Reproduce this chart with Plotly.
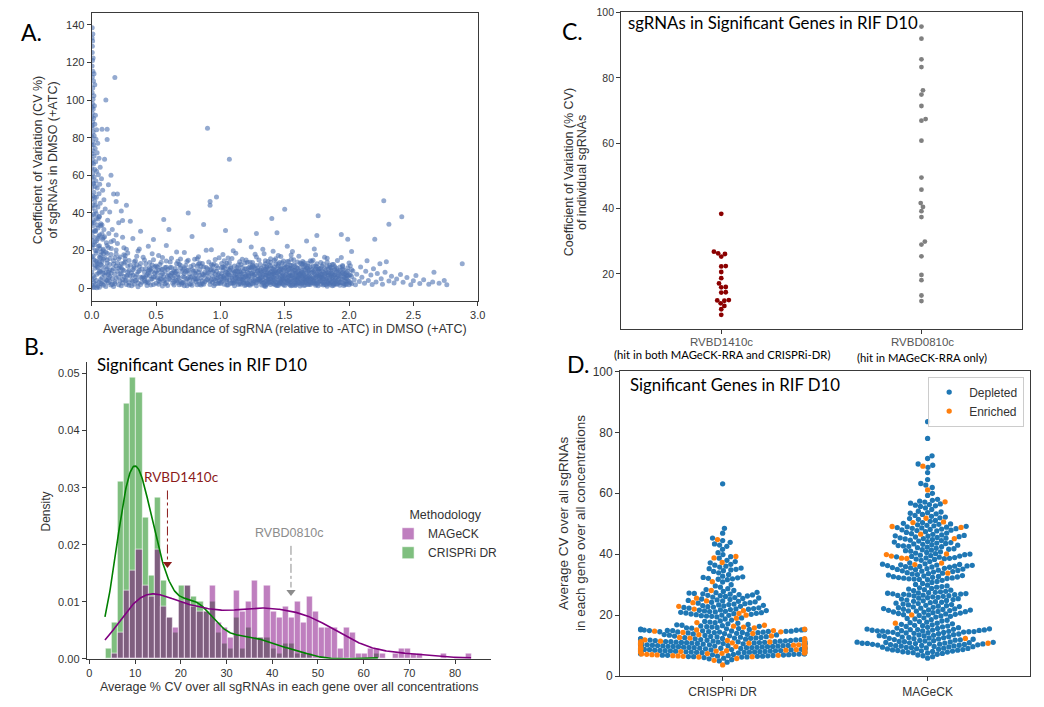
import numpy as np
import plotly.graph_objects as go

W, H = 1044, 707
AX_FONT = "Liberation Sans, Arial, Helvetica, sans-serif"
CAL_FONT = "Lato, Carlito, Calibri, sans-serif"
TXT = "#333333"


def fx(p):
    return p / W


def fy(p):
    return 1 - p / H


# ---------------- Panel A data (abundance vs CV of each sgRNA) ----------------
a_spike = [
    (0.004, 138.5), (0.009, 135.2), (0.003, 133.0), (0.007, 131.4), (0.005, 128.6), (0.004, 125.3), (0.011, 122.4),
    (0.006, 121.1), (0.003, 118.2), (0.009, 115.4), (0.018, 114.0), (0.005, 112.3), (0.014, 110.1), (0.024, 108.2),
    (0.008, 106.5), (0.003, 104.1), (0.017, 102.3), (0.010, 100.4), (0.005, 98.2), (0.021, 97.0), (0.012, 95.3),
    (0.004, 93.1), (0.029, 92.0), (0.015, 90.2), (0.007, 88.4), (0.024, 87.1), (0.004, 85.3), (0.038, 84.2),
    (0.011, 83.0), (0.019, 81.1), (0.033, 79.2), (0.006, 78.0), (0.047, 77.1), (0.014, 76.2), (0.027, 74.3),
    (0.009, 73.1), (0.042, 72.0), (0.019, 70.2), (0.057, 69.1), (0.005, 68.3), (0.031, 67.2), (0.014, 66.0),
    (0.066, 64.3), (0.024, 63.1), (0.038, 62.2), (0.009, 61.0), (0.052, 60.3), (0.019, 59.1), (0.076, 58.2),
    (0.033, 57.0), (0.011, 56.1), (0.062, 55.3), (0.027, 54.0), (0.043, 53.2), (0.085, 52.1), (0.017, 51.0),
    (0.057, 50.2), (0.007, 49.1), (0.036, 48.3), (0.095, 47.0), (0.024, 46.2), (0.066, 45.1), (0.011, 44.0),
    (0.048, 43.2), (0.105, 42.1), (0.029, 41.0), (0.081, 40.2), (0.014, 39.1), (0.057, 38.0), (0.038, 37.2),
    (0.124, 36.1), (0.019, 35.0), (0.071, 34.2), (0.009, 33.1), (0.048, 32.0), (0.095, 31.2), (0.029, 30.1),
    (0.133, 29.0), (0.062, 28.2), (0.017, 27.1), (0.085, 26.0), (0.038, 25.2), (0.114, 24.1), (0.007, 23.0),
    (0.052, 22.2), (0.152, 21.1), (0.029, 20.0), (0.076, 19.2), (0.190, 18.1), (0.011, 17.0),
    (0.002, 96.0), (0.001, 91.0), (0.003, 86.5), (0.002, 80.5), (0.001, 76.0), (0.004, 71.5), (0.002, 66.5),
    (0.001, 63.5), (0.003, 58.5), (0.002, 53.5), (0.001, 47.5), (0.003, 42.5), (0.002, 38.5), (0.001, 34.5),
    (0.004, 29.5), (0.002, 25.5), (0.003, 21.5), (0.001, 16.5), (0.002, 12.5), (0.001, 8.5), (0.003, 4.5),
    (0.002, 1.5), (0.008, 0.5), (0.020, 0.3), (0.040, 0.2), (0.060, 0.4),
    (0.016, 55.5), (0.022, 48.5), (0.028, 44.0), (0.035, 39.5), (0.012, 36.0), (0.044, 33.5), (0.020, 30.5),
    (0.053, 27.5), (0.026, 24.5), (0.064, 21.0), (0.034, 18.5), (0.016, 15.0), (0.045, 13.0), (0.025, 10.5),
    (0.055, 8.0), (0.012, 6.5), (0.035, 4.0), (0.070, 2.5), (0.048, 1.0), (0.030, 14.5), (0.068, 16.0),
    (0.042, 11.5), (0.086, 9.5), (0.018, 3.0),
]

a_band = [
    (0.06, 3.2), (0.07, 8.5), (0.08, 14.1), (0.09, 1.5), (0.10, 6.8), (0.11, 11.2), (0.12, 18.4), (0.13, 2.9),
    (0.14, 9.7), (0.06, 22.5), (0.08, 5.6), (0.10, 27.3), (0.12, 4.1), (0.14, 15.8), (0.07, 12.6), (0.09, 19.9),
    (0.11, 0.8), (0.13, 7.4), (0.15, 24.6), (0.08, 33.5), (0.10, 16.2), (0.12, 10.3), (0.06, 38.1), (0.09, 26.8),
    (0.14, 3.7),
    (0.16, 5.1), (0.17, 12.8), (0.18, 2.4), (0.19, 20.3), (0.20, 8.9), (0.21, 15.6), (0.22, 3.8), (0.23, 10.7),
    (0.24, 27.1), (0.25, 6.2), (0.26, 13.9), (0.27, 1.9), (0.28, 18.6), (0.29, 9.4), (0.16, 31.2), (0.18, 7.3),
    (0.20, 23.7), (0.22, 11.5), (0.24, 4.6), (0.26, 17.2), (0.28, 6.9), (0.30, 12.1), (0.17, 0.9), (0.21, 34.8),
    (0.25, 21.4),
    (0.31, 4.3), (0.32, 9.8), (0.33, 2.1), (0.34, 14.5), (0.35, 7.2), (0.36, 19.7), (0.37, 11.3), (0.38, 5.8),
    (0.39, 3.1), (0.40, 16.4), (0.41, 8.6), (0.42, 12.9), (0.43, 1.4), (0.44, 22.3), (0.45, 6.7), (0.46, 10.2),
    (0.47, 4.9), (0.48, 15.1), (0.49, 7.9), (0.50, 2.6), (0.32, 26.4), (0.35, 12.4), (0.38, 30.2), (0.41, 3.9),
    (0.44, 9.1), (0.47, 18.3), (0.50, 11.8), (0.36, 0.7), (0.42, 6.1), (0.48, 25.8),
    (0.51, 5.4), (0.52, 9.6), (0.53, 3.2), (0.54, 13.8), (0.55, 7.7), (0.56, 36.5), (0.57, 2.3), (0.58, 11.1),
    (0.59, 6.3), (0.60, 31.1), (0.61, 4.4), (0.62, 15.9), (0.63, 8.2), (0.64, 1.6), (0.65, 10.4), (0.66, 19.2),
    (0.67, 5.9), (0.68, 12.7), (0.69, 3.5), (0.70, 8.8), (0.52, 17.4), (0.55, 1.1), (0.58, 22.6), (0.61, 10.9),
    (0.64, 6.6), (0.67, 14.3), (0.70, 2.8), (0.54, 4.8), (0.60, 7.1), (0.66, 3.9),
    (0.71, 6.2), (0.72, 10.8), (0.73, 3.4), (0.74, 14.1), (0.75, 40.0), (0.76, 7.6), (0.77, 2.2), (0.78, 27.4),
    (0.79, 12.3), (0.80, 5.1), (0.81, 9.2), (0.82, 1.8), (0.83, 16.7), (0.84, 6.8), (0.85, 11.6), (0.86, 3.9),
    (0.87, 33.8), (0.88, 8.4), (0.89, 20.1), (0.90, 4.6), (0.72, 18.9), (0.75, 5.5), (0.78, 9.9), (0.81, 3.2),
    (0.84, 13.4), (0.87, 7.1), (0.90, 10.3), (0.74, 1.2), (0.80, 15.3), (0.86, 2.5),
    (0.91, 5.8), (0.92, 46.0), (0.92, 44.0), (0.93, 9.7), (0.94, 3.1), (0.95, 12.8), (0.96, 7.3), (0.97, 48.5),
    (0.98, 2.4), (0.99, 16.2), (1.00, 6.1), (1.01, 10.9), (1.02, 4.2), (1.03, 14.6), (1.04, 30.6), (1.05, 8.3),
    (1.06, 1.7), (1.07, 68.5), (1.08, 11.4), (1.09, 5.2), (1.10, 19.8), (0.93, 20.4), (0.95, 4.9), (0.97, 8.9),
    (0.99, 2.9), (1.01, 13.1), (1.03, 6.6), (1.05, 3.7), (1.07, 9.5), (1.09, 15.7), (0.94, 11.9), (0.98, 5.5),
    (1.02, 17.9), (1.06, 7.8), (1.10, 4.1), (0.90, 85.0),
    (1.11, 6.4), (1.12, 9.1), (1.13, 3.3), (1.14, 12.4), (1.15, 7.2), (1.16, 2.1), (1.17, 15.3), (1.18, 5.6),
    (1.19, 10.2), (1.20, 4.0), (1.21, 13.7), (1.22, 8.0), (1.23, 1.5), (1.24, 21.8), (1.25, 6.8), (1.26, 11.3),
    (1.27, 3.6), (1.28, 29.0), (1.29, 9.3), (1.30, 5.0), (1.12, 18.5), (1.14, 4.7), (1.16, 8.6), (1.18, 2.7),
    (1.20, 14.9), (1.22, 6.0), (1.24, 10.8), (1.26, 3.0), (1.28, 16.6), (1.30, 7.9), (1.13, 11.0), (1.17, 6.2),
    (1.21, 2.4), (1.25, 12.1), (1.29, 4.4), (1.15, 25.2), (1.19, 7.5), (1.23, 9.8), (1.27, 18.0), (1.11, 1.2),
    (1.31, 5.3), (1.32, 8.4), (1.33, 2.6), (1.34, 11.7), (1.35, 6.9), (1.36, 3.8), (1.37, 14.2), (1.38, 7.7),
    (1.39, 1.9), (1.40, 37.0), (1.41, 10.1), (1.42, 4.5), (1.43, 12.9), (1.44, 29.5), (1.45, 8.8), (1.46, 2.2),
    (1.47, 16.8), (1.48, 6.3), (1.49, 9.6), (1.50, 42.0), (1.31, 12.6), (1.33, 6.1), (1.35, 9.9), (1.37, 3.2),
    (1.39, 15.6), (1.41, 5.7), (1.43, 8.1), (1.45, 1.4), (1.47, 11.2), (1.49, 4.2), (1.32, 3.5), (1.34, 18.3),
    (1.36, 10.5), (1.38, 4.9), (1.40, 7.4), (1.42, 14.8), (1.44, 3.0), (1.46, 9.3), (1.48, 13.5), (1.50, 6.6),
    (1.33, 20.7), (1.36, 7.0), (1.39, 11.9), (1.42, 2.0), (1.45, 17.4), (1.48, 5.1), (1.50, 10.7), (1.35, 0.9),
    (1.41, 19.6), (1.47, 3.7),
    (1.51, 4.8), (1.52, 9.0), (1.53, 2.3), (1.54, 12.2), (1.55, 6.5), (1.56, 3.6), (1.57, 15.1), (1.58, 7.8),
    (1.59, 1.7), (1.60, 10.6), (1.61, 5.2), (1.62, 13.3), (1.63, 8.3), (1.64, 2.9), (1.65, 11.4), (1.66, 6.0),
    (1.67, 25.0), (1.68, 4.3), (1.69, 9.5), (1.70, 14.6), (1.51, 11.3), (1.53, 6.8), (1.55, 1.3), (1.57, 9.4),
    (1.59, 4.6), (1.61, 16.9), (1.63, 3.4), (1.65, 7.3), (1.67, 10.8), (1.69, 2.1), (1.52, 4.1), (1.54, 8.0),
    (1.56, 19.4), (1.58, 5.5), (1.60, 2.6), (1.62, 7.6), (1.64, 12.7), (1.66, 3.1), (1.68, 8.9), (1.70, 5.8),
    (1.53, 14.0), (1.56, 10.0), (1.59, 8.1), (1.62, 1.1), (1.65, 4.7), (1.68, 13.2), (1.52, 22.3), (1.58, 3.0),
    (1.64, 6.4), (1.70, 1.9), (1.55, 17.6), (1.61, 7.0), (1.67, 5.3), (1.60, 13.9), (1.66, 9.7),
    (1.71, 5.0), (1.72, 8.7), (1.73, 2.5), (1.74, 11.8), (1.75, 6.2), (1.76, 38.5), (1.77, 3.5), (1.78, 13.6),
    (1.79, 7.4), (1.80, 1.6), (1.81, 10.4), (1.82, 4.4), (1.83, 15.9), (1.84, 6.9), (1.85, 2.7), (1.86, 9.8),
    (1.87, 4.9), (1.88, 12.5), (1.89, 7.1), (1.90, 3.3), (1.71, 14.2), (1.73, 7.9), (1.75, 3.9), (1.77, 10.1),
    (1.79, 5.4), (1.81, 2.1), (1.83, 8.3), (1.85, 11.1), (1.87, 1.3), (1.89, 9.9), (1.72, 4.0), (1.74, 17.7),
    (1.76, 9.2), (1.78, 5.9), (1.80, 12.8), (1.82, 7.7), (1.84, 3.2), (1.86, 6.5), (1.88, 2.2), (1.90, 10.6),
    (1.73, 20.8), (1.77, 6.7), (1.81, 16.4), (1.85, 5.6), (1.89, 4.3), (1.75, 28.0), (1.79, 11.6), (1.83, 1.0),
    (1.87, 7.5), (1.74, 2.9),
    (1.91, 6.1), (1.92, 3.0), (1.93, 9.4), (1.94, 4.8), (1.95, 12.0), (1.96, 2.4), (1.97, 7.6), (1.98, 5.2),
    (1.99, 10.8), (2.00, 3.7), (2.01, 7.0), (2.02, 2.3), (2.03, 9.1), (2.04, 4.5), (2.05, 1.8), (1.91, 14.7),
    (1.93, 1.5), (1.95, 8.2), (1.97, 3.6), (1.99, 6.4), (2.01, 11.9), (1.92, 8.6), (1.94, 16.3), (1.96, 5.7),
    (1.98, 2.0), (2.00, 13.4), (2.02, 6.2), (1.94, 28.5), (1.99, 26.0), (2.02, 19.5),
]

a_core = [
    (0.02, 5.5), (0.03, 12.2), (0.04, 19.8), (0.05, 26.4), (0.06, 9.1), (0.07, 33.2), (0.08, 2.2), (0.09, 15.3),
    (0.03, 30.6), (0.05, 36.8), (0.07, 17.6), (0.09, 7.9), (0.02, 23.1), (0.06, 13.7), (0.08, 28.9),
    (0.11, 4.5), (0.12, 13.4), (0.13, 21.6), (0.14, 6.2), (0.15, 17.9), (0.16, 9.3), (0.17, 25.3), (0.18, 3.4),
    (0.19, 11.8), (0.11, 19.1), (0.13, 8.4), (0.15, 1.7), (0.17, 14.6), (0.19, 28.2), (0.12, 22.7),
    (0.21, 5.9), (0.22, 16.5), (0.23, 1.3), (0.24, 9.8), (0.25, 13.2), (0.26, 4.1), (0.27, 20.6), (0.28, 11.7),
    (0.29, 2.9), (0.21, 10.6), (0.23, 7.5), (0.25, 17.8), (0.27, 6.4), (0.29, 14.7),
    (0.31, 8.1), (0.32, 3.6), (0.33, 11.6), (0.34, 6.0), (0.35, 16.9), (0.36, 2.7), (0.37, 9.2), (0.38, 13.1),
    (0.39, 5.3), (0.31, 1.2), (0.33, 14.0), (0.35, 4.4), (0.37, 20.8), (0.39, 10.1),
    (0.41, 5.2), (0.42, 10.4), (0.43, 7.1), (0.44, 2.8), (0.45, 13.6), (0.46, 4.7), (0.47, 8.8), (0.48, 1.9),
    (0.49, 11.4), (0.41, 14.9), (0.43, 3.5), (0.45, 9.6), (0.47, 12.3), (0.49, 6.0),
    (0.51, 7.9), (0.52, 2.1), (0.53, 12.5), (0.54, 6.9), (0.55, 10.0), (0.56, 3.8), (0.57, 8.5), (0.58, 14.4),
    (0.59, 1.4), (0.51, 11.2), (0.53, 5.0), (0.55, 16.3), (0.57, 4.6), (0.59, 9.9),
    (0.61, 6.7), (0.62, 11.0), (0.63, 2.6), (0.64, 9.0), (0.65, 4.2), (0.66, 13.0), (0.67, 7.3), (0.68, 1.8),
    (0.69, 10.7), (0.61, 13.9), (0.63, 5.6), (0.65, 8.1), (0.67, 3.0), (0.69, 15.5),
    (0.71, 3.0), (0.72, 7.8), (0.73, 12.0), (0.74, 5.0), (0.75, 9.5), (0.76, 2.0), (0.77, 11.5), (0.78, 6.1),
    (0.79, 4.0), (0.71, 10.0), (0.73, 8.6), (0.75, 14.8), (0.77, 5.7), (0.79, 8.9), (0.72, 1.3),
    (0.81, 7.0), (0.82, 11.8), (0.83, 3.8), (0.84, 9.8), (0.85, 5.3), (0.86, 13.1), (0.87, 2.0), (0.88, 6.4),
    (0.89, 10.9), (0.81, 4.8), (0.83, 8.4), (0.85, 1.6), (0.87, 11.2), (0.89, 4.2), (0.82, 15.6),
    (0.91, 8.0), (0.92, 3.6), (0.93, 12.4), (0.94, 6.3), (0.95, 9.3), (0.96, 2.2), (0.97, 5.1), (0.98, 10.7),
    (0.99, 7.7), (0.91, 13.9), (0.93, 4.5), (0.95, 1.3), (0.97, 11.9), (0.99, 3.9), (0.92, 9.9), (0.96, 15.2),
    (1.01, 3.3), (1.02, 9.5), (1.03, 5.4), (1.04, 12.0), (1.05, 1.6), (1.06, 7.0), (1.07, 4.1), (1.08, 10.6),
    (1.09, 8.1), (1.10, 2.6), (1.01, 7.6), (1.03, 11.0), (1.05, 5.8), (1.07, 13.6), (1.09, 2.9), (1.02, 6.2),
    (1.06, 16.0),
    (1.11, 8.6), (1.12, 3.9), (1.13, 6.8), (1.14, 10.2), (1.15, 2.5), (1.16, 12.6), (1.17, 4.5), (1.18, 9.0),
    (1.19, 1.4), (1.20, 6.4), (1.11, 11.7), (1.13, 5.6), (1.15, 8.8), (1.17, 3.1), (1.19, 13.4), (1.12, 7.3),
    (1.16, 5.0), (1.20, 10.3),
    (1.21, 5.6), (1.22, 10.8), (1.23, 3.9), (1.24, 7.6), (1.25, 2.2), (1.26, 9.0), (1.27, 5.1), (1.28, 12.0),
    (1.29, 6.5), (1.30, 3.5), (1.21, 8.4), (1.22, 1.8), (1.23, 13.8), (1.24, 4.7), (1.26, 6.8), (1.27, 10.3),
    (1.28, 2.8), (1.29, 8.9), (1.25, 11.4), (1.30, 15.0),
    (1.31, 7.3), (1.32, 1.6), (1.32, 10.6), (1.33, 4.4), (1.34, 8.8), (1.34, 3.0), (1.35, 5.6), (1.35, 12.9),
    (1.36, 2.1), (1.36, 8.0), (1.37, 6.2), (1.37, 10.0), (1.38, 2.9), (1.38, 12.1), (1.39, 5.0), (1.39, 8.4),
    (1.40, 3.4), (1.40, 10.4), (1.31, 3.9), (1.33, 9.5), (1.35, 1.5), (1.37, 4.6), (1.39, 13.8), (1.40, 6.8),
    (1.41, 2.4), (1.41, 7.8), (1.42, 5.2), (1.42, 11.2), (1.43, 3.3), (1.43, 9.2), (1.44, 6.4), (1.44, 1.4),
    (1.45, 4.0), (1.45, 11.8), (1.46, 6.9), (1.46, 13.6), (1.47, 2.8), (1.47, 8.4), (1.48, 4.6), (1.48, 10.3),
    (1.49, 1.8), (1.49, 7.0), (1.50, 3.6), (1.50, 12.4), (1.42, 8.6), (1.44, 10.7), (1.46, 4.8), (1.48, 2.5),
    (1.49, 14.4), (1.43, 15.6),
    (1.51, 2.9), (1.51, 7.4), (1.52, 5.4), (1.52, 11.5), (1.53, 4.0), (1.53, 9.7), (1.54, 1.7), (1.54, 6.5),
    (1.55, 3.3), (1.55, 10.6), (1.56, 5.8), (1.56, 8.1), (1.57, 2.2), (1.57, 12.6), (1.58, 4.4), (1.58, 9.6),
    (1.59, 6.9), (1.59, 2.6), (1.60, 4.9), (1.60, 8.6), (1.52, 14.1), (1.54, 3.5), (1.56, 1.5), (1.58, 11.8),
    (1.60, 6.2), (1.55, 15.4),
    (1.61, 3.0), (1.61, 9.1), (1.62, 4.9), (1.62, 10.9), (1.63, 2.0), (1.63, 6.6), (1.64, 8.3), (1.64, 4.0),
    (1.65, 1.4), (1.65, 9.8), (1.66, 5.0), (1.66, 12.1), (1.67, 2.9), (1.67, 7.8), (1.68, 6.0), (1.68, 10.4),
    (1.69, 3.6), (1.69, 8.0), (1.70, 4.6), (1.70, 11.3), (1.62, 7.1), (1.64, 14.2), (1.66, 3.6), (1.68, 1.9),
    (1.63, 12.9), (1.69, 5.3),
    (1.71, 2.7), (1.71, 8.2), (1.72, 6.0), (1.72, 11.6), (1.73, 3.8), (1.73, 9.4), (1.74, 1.5), (1.74, 5.3),
    (1.75, 7.6), (1.75, 12.9), (1.76, 3.0), (1.76, 6.8), (1.77, 4.8), (1.77, 8.8), (1.78, 2.0), (1.78, 10.7),
    (1.79, 6.0), (1.79, 3.6), (1.80, 8.4), (1.80, 5.0), (1.72, 14.8), (1.74, 10.3), (1.76, 1.3), (1.78, 7.2),
    (1.81, 6.3), (1.81, 3.3), (1.82, 9.6), (1.82, 1.8), (1.83, 5.1), (1.83, 11.8), (1.84, 8.0), (1.84, 2.5),
    (1.85, 4.4), (1.85, 7.2), (1.86, 3.0), (1.86, 10.8), (1.87, 5.8), (1.87, 9.0), (1.88, 4.0), (1.88, 1.5),
    (1.89, 7.0), (1.89, 11.3), (1.90, 5.4), (1.90, 2.1), (1.83, 13.9), (1.87, 12.6),
    (1.91, 4.2), (1.91, 9.2), (1.92, 6.6), (1.93, 2.8), (1.93, 11.2), (1.94, 7.5), (1.95, 4.7), (1.96, 9.6),
    (1.96, 1.4), (1.97, 5.6), (1.98, 8.3), (1.98, 3.2), (1.99, 4.1), (2.00, 6.9), (2.01, 2.9), (2.02, 9.8),
]

a_core2 = [
    (0.03, 2.1), (0.04, 7.3), (0.05, 10.8), (0.06, 16.4), (0.07, 4.6), (0.08, 11.9), (0.09, 20.6), (0.10, 3.2),
    (0.11, 8.1), (0.12, 14.9), (0.13, 5.4), (0.14, 12.5), (0.15, 7.9), (0.16, 2.0), (0.17, 10.4), (0.18, 16.1),
    (0.19, 5.2), (0.20, 13.4), (0.21, 1.8), (0.22, 7.8), (0.23, 12.9), (0.24, 2.7), (0.25, 9.4), (0.26, 15.5),
    (0.27, 4.3), (0.28, 8.6), (0.29, 1.5), (0.30, 6.6), (0.04, 14.2), (0.09, 18.2),
    (0.32, 6.8), (0.34, 3.9), (0.36, 8.7), (0.38, 1.9), (0.40, 6.0), (0.42, 3.1), (0.44, 8.0), (0.46, 1.6),
    (0.48, 5.9), (0.50, 8.9), (0.52, 4.0), (0.54, 9.9), (0.56, 6.0), (0.58, 2.8), (0.60, 5.0), (0.62, 8.0),
    (0.64, 3.5), (0.66, 9.0), (0.68, 5.4), (0.70, 2.1), (0.72, 5.6), (0.74, 9.3), (0.76, 4.5), (0.78, 1.5),
    (0.80, 7.9), (0.82, 5.0), (0.84, 2.0), (0.86, 7.5), (0.88, 3.4), (0.90, 8.1), (0.92, 1.9), (0.94, 8.6),
    (0.96, 4.0), (0.98, 7.0), (1.00, 2.5), (0.33, 10.5), (0.45, 11.0), (0.57, 10.9), (0.69, 12.2), (0.83, 12.8),
    (1.01, 5.0), (1.02, 11.2), (1.03, 2.0), (1.04, 8.6), (1.05, 4.5), (1.06, 10.0), (1.07, 6.8), (1.08, 2.4),
    (1.09, 5.9), (1.10, 9.4), (1.11, 3.3), (1.12, 5.5), (1.13, 9.0), (1.14, 1.9), (1.15, 4.9), (1.16, 7.6),
    (1.17, 10.9), (1.18, 3.9), (1.19, 6.2), (1.20, 1.8), (1.21, 3.0), (1.22, 6.6), (1.23, 11.2), (1.24, 2.5),
    (1.25, 8.0), (1.26, 4.2), (1.27, 7.3), (1.28, 1.3), (1.29, 10.7), (1.30, 4.7), (1.31, 9.8), (1.32, 5.8),
    (1.33, 7.2), (1.34, 1.2), (1.35, 3.6), (1.36, 11.4), (1.37, 8.2), (1.38, 5.7), (1.39, 3.3), (1.40, 9.0),
    (1.41, 4.4), (1.42, 6.9), (1.43, 1.7), (1.44, 8.3), (1.45, 5.9), (1.46, 2.9), (1.47, 10.1), (1.48, 7.8),
    (1.49, 5.3), (1.50, 1.4), (1.51, 8.9), (1.52, 3.0), (1.53, 6.0), (1.54, 10.4), (1.55, 4.6), (1.56, 7.0),
    (1.57, 5.3), (1.58, 1.4), (1.59, 11.0), (1.60, 3.8), (1.61, 6.0), (1.62, 2.6), (1.63, 9.2), (1.64, 5.3),
    (1.65, 7.1), (1.66, 1.6), (1.67, 4.2), (1.68, 11.6), (1.69, 6.6), (1.70, 3.0), (1.71, 9.9), (1.72, 3.1),
    (1.73, 5.4), (1.74, 7.0), (1.75, 2.0), (1.76, 10.2), (1.77, 5.9), (1.78, 3.9), (1.79, 8.9), (1.80, 2.9),
    (1.81, 7.5), (1.82, 5.3), (1.83, 3.7), (1.84, 10.0), (1.85, 1.9), (1.86, 8.0), (1.87, 3.5), (1.88, 6.5),
    (1.89, 2.5), (1.90, 8.6), (1.91, 2.2), (1.92, 5.0), (1.93, 7.0), (1.94, 3.0), (1.95, 10.0), (1.96, 7.3),
    (1.97, 1.9), (1.98, 6.7), (1.99, 9.0), (2.00, 1.8),
    (1.45, 13.0), (1.55, 12.0), (1.65, 13.5), (1.75, 11.4), (1.85, 12.2), (1.35, 14.5), (1.25, 13.6),
    (1.15, 14.0), (1.05, 13.2), (1.95, 11.5),
]

a_tail = [
    (2.06, 7.4), (2.08, 3.5), (2.09, 11.2), (2.10, 5.8), (2.12, 2.6), (2.13, 8.9), (2.14, 14.6), (2.15, 4.1),
    (2.17, 6.9), (2.18, 1.9), (2.19, 10.3), (2.20, 26.0), (2.21, 3.3), (2.22, 7.7), (2.24, 12.9), (2.25, 5.0),
    (2.26, 2.1), (2.27, 46.5), (2.28, 8.4), (2.29, 14.0), (2.31, 34.0), (2.31, 3.8), (2.33, 6.3), (2.35, 2.7),
    (2.37, 4.9), (2.40, 7.2), (2.41, 38.0), (2.42, 3.1), (2.45, 5.6), (2.48, 1.8), (2.50, 3.9), (2.52, 6.7),
    (2.55, 2.5), (2.58, 4.4), (2.62, 2.0), (2.65, 3.2), (2.66, 8.4), (2.70, 2.6), (2.74, 4.0), (2.76, 1.8),
    (2.88, 13.0),
]

a_outliers = [
    (0.18, 112.0), (0.11, 100.0), (0.08, 84.5), (0.12, 84.5), (0.12, 79.0), (0.10, 68.5), (0.15, 60.0),
    (0.13, 55.0), (0.20, 50.0), (0.17, 50.0), (0.27, 44.0), (0.23, 41.0), (0.19, 46.0), (0.24, 36.0),
    (0.30, 35.5), (0.14, 40.5),
]

# ---------------- Panels B & D data: average %CV of each significant gene ----------------
crispr_depleted_cv = [
    4.6, 5.0, 5.4, 5.7, 5.9, 6.1,
    6.28, 6.33, 6.39, 6.44, 6.5, 6.56, 6.61, 6.67, 6.72, 6.78, 6.84, 6.9, 6.95, 7.01, 7.07, 7.12, 7.18, 7.24,
    7.3, 7.36, 7.43, 7.5,
    7.6, 7.64, 7.68, 7.72, 7.75, 7.79, 7.83, 7.87, 7.9, 7.94, 7.98, 8.02, 8.05, 8.09, 8.13, 8.17, 8.2, 8.24,
    8.28, 8.32, 8.35, 8.39, 8.43, 8.47, 8.5, 8.54, 8.58, 8.62, 8.65, 8.69, 8.73, 8.77, 8.8, 8.84, 8.88,
    8.93, 8.96, 8.99, 9.02, 9.05, 9.08, 9.11, 9.14, 9.17, 9.2, 9.23, 9.26, 9.29, 9.32, 9.35, 9.38, 9.41, 9.44,
    9.47, 9.5, 9.53, 9.56, 9.59, 9.62, 9.65, 9.68, 9.71, 9.74, 9.77, 9.8, 9.83, 9.86, 9.89, 9.92, 9.95, 9.98,
    10.01, 10.04, 10.07, 10.1, 10.14, 10.19,
    10.27, 10.3, 10.33, 10.36, 10.39, 10.42, 10.45, 10.48, 10.51, 10.54, 10.57, 10.6, 10.63, 10.66, 10.69,
    10.72, 10.75, 10.78, 10.81, 10.84, 10.87, 10.9, 10.93, 10.96, 10.99, 11.02, 11.05, 11.08, 11.11, 11.14,
    11.17, 11.2, 11.23, 11.26, 11.29, 11.32, 11.35, 11.38, 11.42, 11.47, 11.53,
    11.6, 11.66, 11.72, 11.78, 11.84, 11.9, 11.96, 12.02, 12.08, 12.14, 12.2, 12.26, 12.32, 12.38, 12.44,
    12.5, 12.56, 12.62, 12.7, 12.78, 12.86,
    12.95, 13.05, 13.15, 13.25, 13.35, 13.45, 13.55, 13.65, 13.75, 13.85, 13.95, 14.05, 14.18,
    14.27, 14.32, 14.37, 14.42, 14.47, 14.52, 14.57, 14.62, 14.67, 14.72, 14.77, 14.82, 14.87, 14.92, 14.97,
    15.02, 15.07, 15.12, 15.17, 15.22, 15.27, 15.32, 15.38, 15.45, 15.53,
    15.62, 15.74, 15.86, 15.98, 16.1, 16.22, 16.34, 16.46, 16.58, 16.7, 16.84,
    16.98, 17.17, 17.36, 17.55, 17.74, 17.93, 18.14,
    18.4, 18.75, 19.1, 19.45,
    19.62, 19.73, 19.84, 19.95, 20.06, 20.17, 20.28, 20.39, 20.5, 20.61, 20.72, 20.84,
    20.96, 21.07, 21.18, 21.29, 21.4, 21.51, 21.62, 21.73, 21.84, 21.95, 22.06, 22.18,
    22.3, 22.42, 22.54, 22.66, 22.78, 22.9, 23.02, 23.14, 23.26, 23.38, 23.5,
    23.65, 23.8, 23.95, 24.1, 24.25, 24.4, 24.55, 24.7, 24.85,
    25.0, 25.16, 25.32, 25.48, 25.64, 25.8, 25.96, 26.14,
    26.3, 26.42, 26.54, 26.66, 26.78, 26.9, 27.02, 27.14, 27.26, 27.38, 27.5,
    27.8, 28.1, 28.4, 28.7, 29.2, 29.6, 30.0, 30.9,
    31.65, 31.8, 31.95, 32.1, 32.25, 32.4, 32.6, 32.8, 33.3, 33.9,
    34.35, 34.6, 34.85, 35.05, 35.25, 35.45, 35.8, 36.1, 36.4, 36.7, 37.2, 37.6, 38.0, 38.7, 39.2,
    39.9, 40.5, 41.6, 42.6, 43.0, 43.4, 43.9, 44.5, 45.3, 46.9, 48.5, 63.1,
]
crispr_enriched_cv = [
    3.7, 5.2, 5.8,
    6.3, 6.41, 6.52, 6.63, 6.74, 6.85, 6.96, 7.07, 7.18, 7.29, 7.4, 7.51,
    7.62, 7.71, 7.8, 7.89, 7.98, 8.07, 8.16, 8.25, 8.34, 8.43, 8.52, 8.61, 8.7, 8.82,
    8.95, 9.06, 9.17, 9.28, 9.39, 9.5, 9.61, 9.72, 9.83, 9.94, 10.05, 10.16,
    10.3, 10.43, 10.56, 10.69, 10.82, 10.95, 11.08, 11.21, 11.34, 11.47,
    11.7, 11.9, 12.1, 12.3, 12.5, 12.7, 13.2, 13.6, 14.0,
    14.35, 14.55, 14.75, 14.95, 15.15, 15.4, 15.8, 16.1, 16.4, 16.7,
    17.6, 19.0, 20.0, 20.6, 21.5, 22.0, 22.9, 24.1, 24.7, 25.6, 28.1, 31.0, 37.3, 38.8, 39.3, 44.8,
]
mageck_depleted_cv = [
    5.9, 6.4, 6.7, 6.95, 7.2, 7.45,
    7.62, 7.72, 7.82, 7.92, 8.02, 8.12, 8.22, 8.32, 8.42, 8.52, 8.62, 8.72, 8.84,
    8.95, 9.03, 9.11, 9.19, 9.27, 9.35, 9.43, 9.51, 9.59, 9.67, 9.75, 9.83, 9.91, 9.99, 10.07, 10.15, 10.21,
    10.27, 10.33, 10.39, 10.45, 10.51, 10.57, 10.63, 10.69, 10.75, 10.81, 10.87, 10.93, 10.99, 11.05, 11.11,
    11.17, 11.23, 11.3, 11.4, 11.5,
    11.62, 11.72, 11.82, 11.92, 12.02, 12.12, 12.22, 12.32, 12.42, 12.52, 12.62, 12.72, 12.84,
    12.96, 13.07, 13.18, 13.29, 13.4, 13.51, 13.62, 13.73, 13.84, 13.95, 14.06, 14.18,
    14.28, 14.34, 14.4, 14.46, 14.52, 14.58, 14.64, 14.7, 14.76, 14.82, 14.88, 14.94, 15.0, 15.06, 15.12,
    15.18, 15.24, 15.3, 15.37, 15.44, 15.52,
    15.65, 15.78, 15.91, 16.04, 16.17, 16.3, 16.43, 16.56, 16.69, 16.84,
    17.0, 17.18, 17.36, 17.54, 17.72, 17.9, 18.1,
    18.35, 18.55, 18.75, 18.95, 19.15, 19.4,
    19.65, 19.78, 19.91, 20.04, 20.17, 20.3, 20.43, 20.56, 20.69, 20.84,
    20.97, 21.06, 21.15, 21.24, 21.33, 21.42, 21.51, 21.6, 21.69, 21.78, 21.87, 21.96, 22.06, 22.18,
    22.32, 22.45, 22.58, 22.71, 22.84, 22.97, 23.1, 23.23, 23.36, 23.5,
    23.66, 23.81, 23.96, 24.11, 24.26, 24.41, 24.56, 24.71, 24.86,
    24.98, 25.13, 25.28, 25.43, 25.58, 25.73, 25.88, 26.03, 26.18,
    26.3, 26.39, 26.48, 26.57, 26.66, 26.75, 26.84, 26.93, 27.02, 27.11, 27.2, 27.29, 27.4, 27.52,
    27.67, 27.85, 28.03, 28.21, 28.39, 28.57, 28.8,
    29.0, 29.2, 29.4, 29.6, 29.85, 30.1,
    30.4, 30.75, 31.1, 31.45,
    31.64, 31.74, 31.84, 31.94, 32.04, 32.14, 32.24, 32.34, 32.44, 32.54, 32.64, 32.74, 32.86,
    33.0, 33.16, 33.32, 33.48, 33.64, 33.8, 33.96, 34.14,
    34.31, 34.43, 34.55, 34.67, 34.79, 34.91, 35.03, 35.15, 35.27, 35.39, 35.52,
    35.64, 35.73, 35.82, 35.91, 36.0, 36.09, 36.18, 36.27, 36.36, 36.45, 36.54, 36.63, 36.74, 36.86,
    37.2, 37.6, 38.0,
    38.31, 38.43, 38.55, 38.67, 38.79, 38.91, 39.03, 39.15, 39.27, 39.39, 39.52,
    39.68, 39.86, 40.04, 40.22, 40.4, 40.58, 40.8,
    41.0, 41.16, 41.32, 41.48, 41.64, 41.8, 41.96, 42.16,
    42.33, 42.46, 42.59, 42.72, 42.85, 42.98, 43.11, 43.24, 43.37, 43.52,
    43.67, 43.83, 43.99, 44.15, 44.31, 44.47, 44.63, 44.82,
    45.0, 45.13, 45.26, 45.39, 45.52, 45.65, 45.78, 45.91, 46.04, 46.19,
    46.35, 46.55, 46.75, 46.95, 47.15, 47.4,
    47.66, 47.78, 47.9, 48.02, 48.14, 48.26, 48.38, 48.5, 48.62, 48.74, 48.87,
    49.0, 49.16, 49.32, 49.48, 49.64, 49.8, 49.96, 50.15,
    50.4, 50.8, 51.1, 51.45, 51.7, 51.95, 52.2, 52.45, 52.75,
    53.05, 53.25, 53.45, 53.65, 53.85, 54.1, 54.7, 55.2,
    55.7, 55.9, 56.1, 56.3, 56.5, 56.75, 57.1, 57.4, 57.7, 58.0,
    59.3, 60.0, 61.9, 62.7, 63.2, 64.5, 66.8, 68.5, 69.2, 69.6, 71.4, 72.3, 78.0, 83.5,
]
mageck_enriched_cv = [
    10.8, 12.4, 17.4, 20.1, 33.8, 36.6, 37.1, 38.6, 38.7, 39.4, 39.9, 40.1, 45.1, 46.6, 48.8, 49.1,
    50.4, 50.6, 51.8, 57.2, 61.1, 68.9,
]
hist_bin_start = 3.57
hist_bin_width = 1.334
hist_bin_count = 60
methods = ["MAGeCK", "CRISPRi DR"]
d_categories = ["CRISPRi DR", "MAGeCK"]
d_hues = ["Depleted", "Enriched"]

# ---------------- Panel C data: %CV of individual sgRNAs ----------------
c_categories = ["RVBD1410c", "RVBD0810c"]
c_notes = ["(hit in both MAGeCK-RRA and CRISPRi-DR)", "(hit in MAGeCK-RRA only)"]
c_rvbd1410c = [38.4, 26.8, 26.3, 26.1, 25.3, 22.4, 22.3, 20.6, 18.7, 17.1, 16.0, 15.9, 14.4, 14.3,
               12.0, 11.9, 11.8, 11.0, 10.2, 9.2, 7.5]
c_rvbd0810c = [95.7, 92.0, 85.7, 83.3, 76.2, 74.9, 71.4, 67.4, 66.9, 60.8, 49.5, 45.8, 41.7, 40.5,
               39.2, 37.4, 29.9, 29.0, 25.4, 19.7, 18.1, 13.4, 11.7]

# ---------------- layout geometry (pixels) ----------------
A_X = (85, 477); A_Y = (6, 300)
B_X = (80, 490.7); B_Y = (361.7, 665)
C_X = (622.7, 1029.3); C_Y = (5, 328)
D_X = (621.7, 1038); D_Y = (371.7, 682.7)

A_RANGE_X = [0, 3]; A_RANGE_Y = [-6.9, 146.4]
B_RANGE_X = [-0.58, 87.9]; B_RANGE_Y = [0, 0.0521]
C_RANGE_X = [-0.5, 1.5]; C_RANGE_Y = [3.3, 100.2]
D_RANGE_X = [-0.5, 1.5]; D_RANGE_Y = [0, 100]


def swarm(vals, y_px_per_unit, d):
    vals = np.asarray(vals, float)
    order = np.argsort(vals, kind="stable")
    xs = np.zeros(len(vals))
    px_l, py_l = [], []
    for i in order:
        y = vals[i] * y_px_per_unit
        best = 0.0
        if px_l:
            P = np.array(px_l); Q = np.array(py_l)
            m = np.abs(Q - y) < d
            nx, ny = P[m], Q[m]
            if len(nx):
                dx = np.sqrt(np.maximum(d * d - (ny - y) ** 2, 0))
                cands = np.concatenate([[0.0], nx + dx, nx - dx])
                cands = cands[np.argsort(np.abs(cands), kind="stable")]
                best = cands[-1]
                for c in cands:
                    if np.all((c - nx) ** 2 + (ny - y) ** 2 >= d * d - 1e-6):
                        best = c
                        break
        xs[i] = best
        px_l.append(best); py_l.append(y)
    return xs


fig = go.Figure()

# ---------------- Panel A ----------------
a_all = a_spike + a_band + a_core + a_core2 + a_tail + a_outliers
fig.add_trace(go.Scatter(
    x=[p[0] for p in a_all], y=[p[1] for p in a_all], mode="markers",
    marker=dict(size=5.0, color="#4C72B0", opacity=0.6, line=dict(width=0)),
    xaxis="x", yaxis="y", showlegend=False, hoverinfo="skip"))

# ---------------- Panel B ----------------
edges = hist_bin_start + hist_bin_width * np.arange(hist_bin_count + 1)
centers = (edges[:-1] + edges[1:]) / 2
crispr_all = np.array(crispr_depleted_cv + crispr_enriched_cv)
mageck_all = np.array(mageck_depleted_cv + mageck_enriched_cv)
n_total = len(crispr_all) + len(mageck_all)
crispr_counts = np.histogram(crispr_all, bins=edges)[0]
mageck_counts = np.histogram(mageck_all, bins=edges)[0]


def kde_curve(s, lo):
    n = len(s)
    bw = s.std(ddof=1) * n ** (-0.2)
    grid = np.linspace(lo, s.max(), 400)
    z = (grid[:, None] - s[None, :]) / bw
    dens = np.exp(-0.5 * z * z).sum(1) / (n * bw * np.sqrt(2 * np.pi))
    return grid, dens * n / n_total


for name, counts, fill, rank in [
        ("CRISPRi DR", crispr_counts, "rgba(0,128,0,0.5)", 2),
        ("MAGeCK", mageck_counts, "rgba(128,0,128,0.5)", 1)]:
    m = counts > 0
    fig.add_trace(go.Bar(
        x=centers[m], y=counts[m] / (n_total * hist_bin_width), width=hist_bin_width,
        marker=dict(color=fill, line=dict(color="rgba(255,255,255,0.7)", width=0.8)),
        name=name, legendrank=rank, legend="legend", xaxis="x2", yaxis="y2", hoverinfo="skip"))

for s, col in [(crispr_all, "#008000"), (mageck_all, "#800080")]:
    g, dd = kde_curve(s, 3.4)
    fig.add_trace(go.Scatter(x=g, y=dd, mode="lines", line=dict(color=col, width=1.6),
                             xaxis="x2", yaxis="y2", showlegend=False, hoverinfo="skip"))

arrow_specs = [(17.07, 0.0295, 0.0174, "#8b1a1a"), (44.1, 0.0198, 0.0125, "#8c8c8c")]
shapes = []
for xa, y0, y1, col in arrow_specs:
    shapes.append(dict(type="line", xref="x2", yref="y2", x0=xa, x1=xa, y0=y0, y1=y1,
                       line=dict(color=col, width=1, dash="dashdot")))
    fig.add_trace(go.Scatter(x=[xa], y=[y1 - 0.0008], mode="markers",
                             marker=dict(symbol="triangle-down", size=8, color=col),
                             xaxis="x2", yaxis="y2", showlegend=False, hoverinfo="skip"))

# ---------------- Panel C ----------------
c_ypx = (C_Y[1] - C_Y[0]) / (C_RANGE_Y[1] - C_RANGE_Y[0])
c_cpx = (C_X[1] - C_X[0]) / (C_RANGE_X[1] - C_RANGE_X[0])
for ci, (vals, col) in enumerate([(c_rvbd1410c, "#8b0000"), (c_rvbd0810c, "#808080")]):
    off = swarm(vals, c_ypx, 4.6)
    fig.add_trace(go.Scatter(x=ci + off / c_cpx, y=vals, mode="markers",
                             marker=dict(size=4.8, color=col, line=dict(width=0)),
                             xaxis="x3", yaxis="y3", showlegend=False, hoverinfo="skip"))

# ---------------- Panel D ----------------
d_ypx = (D_Y[1] - D_Y[0]) / (D_RANGE_Y[1] - D_RANGE_Y[0])
d_cpx = (D_X[1] - D_X[0]) / (D_RANGE_X[1] - D_RANGE_X[0])
d_x, d_y, d_f = [], [], []
for ci, (dep, enr) in enumerate([(crispr_depleted_cv, crispr_enriched_cv),
                                 (mageck_depleted_cv, mageck_enriched_cv)]):
    vals = np.array(dep + enr)
    flags = np.array([False] * len(dep) + [True] * len(enr))
    off = swarm(vals, d_ypx, 5.3)
    off = np.clip(off, -0.4 * d_cpx, 0.4 * d_cpx)
    d_x.append(ci + off / d_cpx); d_y.append(vals); d_f.append(flags)
d_x = np.concatenate(d_x); d_y = np.concatenate(d_y); d_f = np.concatenate(d_f)
for hue, sel, col in [(d_hues[0], ~d_f, "#1f77b4"), (d_hues[1], d_f, "#ff7f0e")]:
    fig.add_trace(go.Scatter(x=d_x[sel], y=d_y[sel], mode="markers", name=hue,
                             marker=dict(size=5.3, color=col, line=dict(width=0)),
                             xaxis="x4", yaxis="y4", legend="legend2", hoverinfo="skip"))


# ---------------- axes ----------------
def axis(dom_px, total, rng, vertical=False, mirror=True, size=11, **kw):
    if vertical:
        dom = [1 - dom_px[1] / total, 1 - dom_px[0] / total]
    else:
        dom = [dom_px[0] / total, dom_px[1] / total]
    d = dict(domain=dom, range=rng, showline=True, linecolor="#3a3a3a", linewidth=1.1, mirror=mirror,
             ticks="outside", ticklen=4, tickwidth=1, tickcolor="#3a3a3a", showgrid=False, zeroline=False,
             tickfont=dict(family=AX_FONT, size=size, color=TXT), fixedrange=True)
    d.update(kw)
    return d


layout_axes = dict(
    xaxis=axis(A_X, W, A_RANGE_X, anchor="y", tickvals=[0, 0.5, 1, 1.5, 2, 2.5, 3], tickformat=".1f"),
    yaxis=axis(A_Y, H, A_RANGE_Y, vertical=True, anchor="x", tickvals=list(range(0, 141, 20))),
    xaxis2=axis(B_X, W, B_RANGE_X, mirror=False, anchor="y2", tickvals=list(range(0, 81, 10))),
    yaxis2=axis(B_Y, H, B_RANGE_Y, vertical=True, mirror=False, anchor="x2",
                tickvals=[0, 0.01, 0.02, 0.03, 0.04, 0.05], tickformat=".2f"),
    xaxis3=axis(C_X, W, C_RANGE_X, anchor="y3", tickvals=[0, 1], ticktext=["", ""]),
    yaxis3=axis(C_Y, H, C_RANGE_Y, vertical=True, anchor="x3", size=10.5, tickvals=[20, 40, 60, 80, 100]),
    xaxis4=axis(D_X, W, D_RANGE_X, anchor="y4", size=12, tickvals=[0, 1], ticktext=d_categories),
    yaxis4=axis(D_Y, H, D_RANGE_Y, vertical=True, anchor="x4", size=12, tickvals=list(range(0, 101, 20))),
)

# ---------------- text annotations ----------------
ann = []


def text(x, y, s, size, family=AX_FONT, color=TXT, angle=0, xanchor="center", yanchor="middle",
         xref="paper", yref="paper"):
    ax_x = fx(x) if xref == "paper" else x
    ax_y = fy(y) if yref == "paper" else y
    ann.append(dict(x=ax_x, y=ax_y, xref=xref, yref=yref, text=s, showarrow=False, textangle=angle,
                    xanchor=xanchor, yanchor=yanchor, font=dict(family=family, size=size, color=color)))


for s, x, y in [("A.", 11, 26), ("B.", 14, 346), ("C.", 561, 24), ("D.", 566, 364)]:
    text(x, y, s, 23, family=CAL_FONT, color="#000000", xanchor="left")
text(88, 365, "Significant Genes in RIF D10", 16.8, family=CAL_FONT, color="#000000", xanchor="left")
text(628, 16, "sgRNAs in Significant Genes in RIF D10", 16.8, family=CAL_FONT, color="#000000", xanchor="left")
text(630, 385, "Significant Genes in RIF D10", 16.8, family=CAL_FONT, color="#000000", xanchor="left")
text(281.7, 328, "Average Abundance of sgRNA (relative to -ATC) in DMSO (+ATC)", 12.5)
text(30.7, 156, "Coefficient of Variation (CV %)", 12.5, angle=-90)
text(45.3, 156, "of sgRNAs in DMSO (+ATC)", 12.5, angle=-90)
text(285.3, 693.3, "Average % CV over all sgRNAs in each gene over all concentrations", 12.5)
text(38.3, 515, "Density", 12, angle=-90)
text(569.3, 169, "Coefficient of Variation (% CV)", 12.5, angle=-90)
text(582.3, 169, "of individual sgRNAs", 12.5, angle=-90)
text(564.3, 526.7, "Average CV over all sgRNAs", 13.5, angle=-90)
text(580.7, 526.7, "in each gene over all concentrations", 13.5, angle=-90)
for cx, cat, note, ny in [(724.7, c_categories[0], c_notes[0], 354.5), (928.7, c_categories[1], c_notes[1], 357.5)]:
    text(cx, 342, cat, 11.5, color="#555555")
    text(cx, ny, note, 11.3, family=CAL_FONT, color="#000000")
text(20.15, 0.0319, "RVBD1410c", 13.5, family=CAL_FONT, color="#8b1a1a", xref="x2", yref="y2")
text(43.86, 0.02205, "RVBD0810c", 12.5, color="#8c8c8c", xref="x2", yref="y2")

fig.update_layout(
    width=W, height=H, margin=dict(l=0, r=0, t=0, b=0),
    paper_bgcolor="white", plot_bgcolor="white",
    barmode="overlay", bargap=0,
    annotations=ann, shapes=shapes,
    legend=dict(title=dict(text="Methodology", side="top center",
                           font=dict(family=AX_FONT, size=12.5, color=TXT)),
                x=fx(386), y=fy(506), xanchor="left", yanchor="top", bgcolor="rgba(0,0,0,0)",
                font=dict(family=AX_FONT, size=12, color=TXT), traceorder="normal", itemwidth=30),
    legend2=dict(x=fx(1032), y=fy(377), xanchor="right", yanchor="top", bgcolor="rgba(255,255,255,0.85)",
                 bordercolor="#cccccc", borderwidth=1, font=dict(family=AX_FONT, size=12, color=TXT),
                 itemsizing="trace"),
    **layout_axes,
)

fig.write_html("out.html")
